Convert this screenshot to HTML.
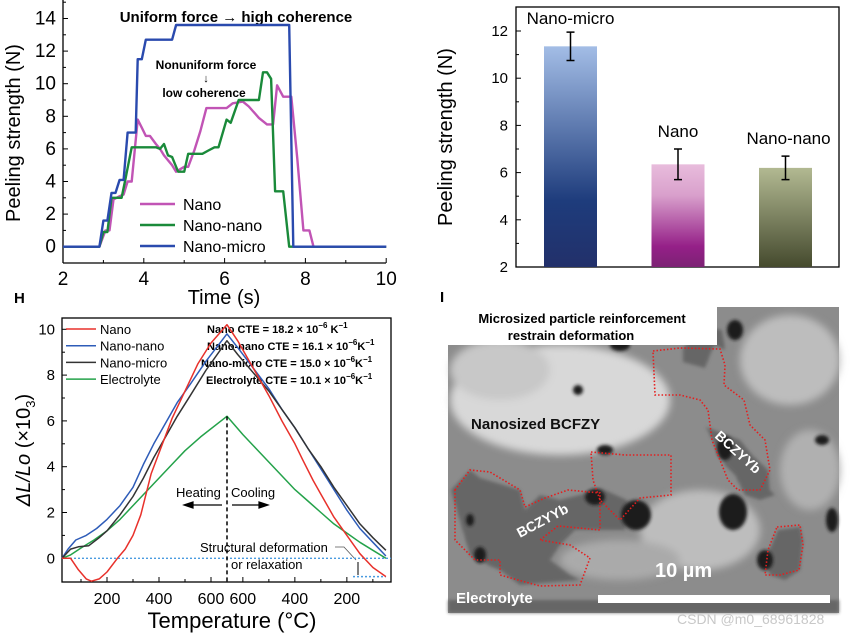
<!DOCTYPE html>
<html><head><meta charset="utf-8">
<style>
html,body{margin:0;padding:0;background:#fff;}
svg{display:block;font-family:"Liberation Sans",Arial,sans-serif;}
</style></head>
<body>
<svg id="root" width="856" height="634" viewBox="0 0 856 634" xmlns="http://www.w3.org/2000/svg">
<defs>
<linearGradient id="gMicro" x1="0" y1="0" x2="0" y2="1"><stop offset="0" stop-color="#a3bde6"/><stop offset="0.7" stop-color="#1e3c7c"/><stop offset="1" stop-color="#22306a"/></linearGradient>
<linearGradient id="gNano" x1="0" y1="0" x2="0" y2="1"><stop offset="0" stop-color="#e8bcdc"/><stop offset="0.3" stop-color="#d9a0cc"/><stop offset="0.8" stop-color="#952088"/><stop offset="1" stop-color="#7c2274"/></linearGradient>
<linearGradient id="gNN" x1="0" y1="0" x2="0" y2="1"><stop offset="0" stop-color="#b2b992"/><stop offset="1" stop-color="#454a2e"/></linearGradient>
<filter id="blur"><feGaussianBlur stdDeviation="4"/></filter>
<filter id="blur2"><feGaussianBlur stdDeviation="1.5"/></filter>
<pattern id="stripes" width="4" height="10" patternUnits="userSpaceOnUse"><rect width="4" height="10" fill="#5a5a5a"/><rect width="2" height="10" fill="#666"/></pattern>
</defs>

<g id="pA">
<text x="20" y="133" font-size="20" text-anchor="middle" transform="rotate(-90 20 133)">Peeling strength (N)</text>
<text x="224" y="304" font-size="20" text-anchor="middle">Time (s)</text>
<text x="236" y="22" font-size="15" font-weight="bold" text-anchor="middle">Uniform force → high coherence</text>
<text x="206" y="69" font-size="12" font-weight="bold" text-anchor="middle">Nonuniform force</text>
<text x="206" y="82" font-size="11" text-anchor="middle">↓</text>
<text x="204" y="97" font-size="12" font-weight="bold" text-anchor="middle">low coherence</text>
</g>

<g id="pB">
<rect x="516" y="7" width="323" height="260" fill="none" stroke="#000" stroke-width="1.3"/>
<text x="452" y="137" font-size="20" text-anchor="middle" transform="rotate(-90 452 137)">Peeling strength (N)</text>
</g>

<g id="pH">
<text x="14" y="303" font-size="15" font-weight="bold">H</text>
<rect x="62" y="318" width="329" height="264" fill="none" stroke="#000" stroke-width="1.3"/>
<text x="232" y="628" font-size="22" text-anchor="middle">Temperature (°C)</text>
<text x="30" y="450" font-size="20" text-anchor="middle" transform="rotate(-90 30 450)"><tspan font-style="italic">ΔL/Lo</tspan> (×10<tspan font-size="13" dy="5">3</tspan><tspan dy="-5">)</tspan></text>
<g font-size="11" font-weight="bold">
<text x="207" y="333">Nano CTE = 18.2 × 10<tspan font-size="8" dy="-5">−6</tspan><tspan dy="5"> K</tspan><tspan font-size="8" dy="-5">−1</tspan></text>
<text x="207" y="350">Nano-nano CTE = 16.1 × 10<tspan font-size="8" dy="-5">−6</tspan><tspan dy="5">K</tspan><tspan font-size="8" dy="-5">−1</tspan></text>
<text x="201" y="367">Nano-micro CTE = 15.0 × 10<tspan font-size="8" dy="-5">−6</tspan><tspan dy="5">K</tspan><tspan font-size="8" dy="-5">−1</tspan></text>
<text x="206" y="384">Electrolyte CTE = 10.1 × 10<tspan font-size="8" dy="-5">−6</tspan><tspan dy="5">K</tspan><tspan font-size="8" dy="-5">−1</tspan></text>
</g>
<text x="176" y="497" font-size="13">Heating</text>
<text x="231" y="497" font-size="13">Cooling</text>
<g stroke="#000" stroke-width="1.2">
<line x1="222" y1="505" x2="190" y2="505"/><polygon points="184,505 193,502 193,508" fill="#000"/>
<line x1="232" y1="505" x2="262" y2="505"/><polygon points="268,505 259,502 259,508" fill="#000"/>
</g>
<text x="200" y="552" font-size="13">Structural deformation</text>
<text x="231" y="569" font-size="13">or relaxation</text>
<polyline points="335,547 344,547 356,560" fill="none" stroke="#555" stroke-width="0.8"/>
<line x1="358" y1="562" x2="358" y2="575" stroke="#000" stroke-width="1"/>
</g>

<g id="pI">
<text x="440" y="302" font-size="15" font-weight="bold">I</text>
<rect x="448" y="307" width="391" height="306" fill="#8c8c8c"/>
<g filter="url(#blur)">
<ellipse cx="560" cy="400" rx="110" ry="55" fill="#d8d8d8"/>
<ellipse cx="500" cy="370" rx="50" ry="30" fill="#c8c8c8"/>
<ellipse cx="790" cy="360" rx="50" ry="45" fill="#bdbdbd"/>
<ellipse cx="700" cy="530" rx="60" ry="40" fill="#bdbdbd"/>
<ellipse cx="620" cy="560" rx="60" ry="20" fill="#aaa"/>
<ellipse cx="810" cy="470" rx="30" ry="40" fill="#b0b0b0"/>
</g>
<g fill="url(#stripes)" opacity="0.85" filter="url(#blur2)">
<polygon points="683,348 683,362 705,368 712,350 715,345 725,350 722,330 706,327"/>
<polygon points="451,490 470,470 480,478 520,490 525,510 540,495 560,500 580,495 600,488 627,500 625,530 575,530 560,545 550,560 570,575 580,580 520,585 500,570 490,566 470,555"/>
<polygon points="706,427 740,440 752,455 768,470 770,490 775,495 760,500 745,495 735,475 725,465"/>
<polygon points="778,530 800,527 803,540 800,570 785,580 770,575 765,560"/>
<polygon points="448,600 839,600 839,613 448,613"/>
</g>
<g fill="#1a1a1a" filter="url(#blur2)">
<ellipse cx="636" cy="515" rx="15" ry="15"/><ellipse cx="595" cy="497" rx="10" ry="8"/><ellipse cx="733" cy="512" rx="14" ry="18"/>
<ellipse cx="725" cy="448" rx="8" ry="12"/><ellipse cx="765" cy="560" rx="8" ry="10"/><ellipse cx="480" cy="555" rx="6" ry="8"/>
<ellipse cx="578" cy="390" rx="5" ry="5"/><ellipse cx="605" cy="450" rx="8" ry="5"/><ellipse cx="620" cy="345" rx="10" ry="6"/><ellipse cx="832" cy="520" rx="6" ry="12"/>
<ellipse cx="735" cy="330" rx="8" ry="10"/><ellipse cx="822" cy="440" rx="7" ry="5"/><ellipse cx="470" cy="520" rx="4" ry="6"/>
</g>
<g fill="none" stroke="#e41e1e" stroke-width="1.6" stroke-dasharray="1.5 2">
<path d="M653,351 L680,348 L720,349 L725,365 L724,385 L744,400 L750,425 L765,440 L770,470 L760,490 L738,490 L728,480 L712,440 L708,410 L700,400 L680,395 L655,395 Z"/>
<path d="M455,490 L470,470 L490,472 L520,490 L525,507 L545,498 L568,490 L600,493 L600,530 L558,526 L540,540 L570,545 L590,558 L580,585 L540,586 L500,575 L500,560 L475,560 L455,540 Z"/>
<path d="M591,452 L625,455 L671,455 L671,495 L640,498 L620,520 L600,500 L593,480 Z"/>
<path d="M777,527 L800,525 L803,545 L799,570 L780,575 L765,575 L768,550 Z"/>
</g>
<rect x="448" y="307" width="269" height="38" fill="#fff"/>
<text x="582" y="323" font-size="13" font-weight="bold" text-anchor="middle">Microsized particle reinforcement</text>
<text x="571" y="340" font-size="13" font-weight="bold" text-anchor="middle">restrain deformation</text>
<text x="471" y="429" font-size="15" font-weight="bold" fill="#111">Nanosized BCFZY</text>
<text x="0" y="0" font-size="14" font-weight="bold" fill="#fff" transform="translate(520,538) rotate(-28)">BCZYYb</text>
<text x="0" y="0" font-size="14" font-weight="bold" fill="#fff" transform="translate(714,437) rotate(42)">BCZYYb</text>
<text x="655" y="577" font-size="20" font-weight="bold" fill="#fff">10 µm</text>
<rect x="598" y="595" width="232" height="8" fill="#fff"/>
<text x="456" y="603" font-size="15" font-weight="bold" fill="#fff">Electrolyte</text>
<text x="677" y="624" font-size="14" fill="#c8c8c8">CSDN @m0_68961828</text>
</g>
</svg>

<script>
// ---------- Panel A data ----------
const aXTicks = [2,4,6,8,10];
const aYTicks = [0,2,4,6,8,10,12,14];
const nanoT = [2,2.9,3.05,3.15,3.25,3.4,3.5,3.6,3.7,3.85,3.95,4.05,4.15,4.3,4.4,4.5,4.6,4.7,4.8,5.0,5.1,5.25,5.4,5.55,5.65,6.05,6.2,6.45,6.6,6.85,7.05,7.2,7.3,7.45,7.65,7.8,7.95,8.1,8.2,10];
const nanoV = [0,0,1.0,1.0,2.9,3.1,3.2,4.0,4.0,7.8,7.3,6.8,6.8,6.3,6.0,5.6,5.3,5.0,4.6,4.9,4.9,5.9,7.1,8.5,8.5,8.5,8.8,8.9,8.6,7.9,7.5,7.5,9.9,9.2,9.2,5.4,1.0,1.0,0,0];
const nnT = [2,2.9,3.0,3.1,3.2,3.45,3.55,3.7,4.3,4.4,4.5,4.6,4.7,4.75,4.85,5.0,5.1,5.45,5.6,5.75,5.85,6.05,6.15,6.35,6.85,6.95,7.05,7.15,7.25,7.45,7.6,10];
const nnV = [0,0,0.9,0.9,3.0,3.0,4.2,6.1,6.1,6.0,6.3,5.6,5.5,5.2,4.6,4.6,5.7,5.7,5.9,6.1,6.1,7.8,7.6,9.0,9.0,10.7,10.7,10.3,3.4,3.4,0,0];
const nmT = [2,2.9,3.0,3.1,3.2,3.3,3.4,3.5,3.6,3.8,3.85,3.95,4.05,4.7,4.8,7.6,7.7,10];
const nmV = [0,0,1.6,1.6,3.3,3.3,4.1,4.1,7,7,11.5,11.5,12.7,12.7,13.6,13.6,0,0];
const aSeriesNames = ["Nano","Nano-nano","Nano-micro"];
// ---------- Panel B data ----------
const bCats = ["Nano-micro","Nano","Nano-nano"];
const bVals = [11.35,6.35,6.2];
const bErr = [0.6,0.65,0.5];
const bYTicks = [2,4,6,8,10,12];
// ---------- Panel H data ----------
const hHeatTicks = [200,400,600];
const hCoolTicks = [600,400,200];
const hYTicks = [0,2,4,6,8,10];
const redHeatT = [27,60,90,120,140,170,200,240,270,300,330,350,370,400,450,500,550,600,661];
const redHeatV = [0,0,-0.5,-0.9,-1.0,-0.9,-0.6,0,0.4,1.0,1.9,2.8,3.7,4.6,6.1,7.3,8.5,9.4,10.2];
const redCoolT = [661,620,560,500,450,400,370,330,300,250,200,150,100,50];
const redCoolV = [10.2,9.5,8.3,7.1,6.0,5.0,4.3,3.4,2.8,1.8,1.0,0.2,-0.4,-0.8];
const blueHeatT = [27,50,80,120,160,200,250,300,340,380,420,470,520,580,661];
const blueHeatV = [0,0.4,0.8,1.0,1.3,1.7,2.3,3.1,4.1,5.0,5.8,6.8,7.6,8.6,9.8];
const blueCoolT = [661,620,560,500,450,400,350,300,250,200,150,100,50];
const blueCoolV = [9.8,9.2,8.3,7.4,6.5,5.7,4.8,3.9,3.0,2.1,1.3,0.7,0.1];
const blackHeatT = [27,60,90,130,170,200,250,300,340,380,420,470,520,580,661];
const blackHeatV = [0,0.4,0.5,0.55,0.9,1.2,1.9,2.7,3.5,4.4,5.2,6.2,7.1,8.2,9.5];
const blackCoolT = [661,620,560,500,450,400,350,300,250,200,150,100,50];
const blackCoolV = [9.5,8.9,8.1,7.3,6.5,5.7,4.8,4.0,3.1,2.3,1.5,0.9,0.35];
const greenHeatT = [27,60,100,150,200,250,300,350,400,450,500,560,661];
const greenHeatV = [0,0.15,0.45,0.8,1.2,1.7,2.3,2.9,3.5,4.1,4.7,5.3,6.2];
const greenCoolT = [661,600,550,500,450,400,350,300,250,200,150,100,50];
const greenCoolV = [6.2,5.4,4.8,4.2,3.6,3.0,2.5,2.0,1.5,1.1,0.7,0.35,0.0];
const hNames = ["Nano","Nano-nano","Nano-micro","Electrolyte"];
const hPeakT = 661;
const hDeform = -0.8;

const NS = "http://www.w3.org/2000/svg";
function mk(parent, tag, attrs, text){
  const e = document.createElementNS(NS, tag);
  for (const k in attrs) e.setAttribute(k, attrs[k]);
  if (text !== undefined) e.textContent = text;
  parent.appendChild(e);
  return e;
}
(function(){
  const g = document.getElementById('pA');
  const x = t => 63 + (t-2)*40.4;
  const y = v => 246.7 - v*16.3;
  mk(g,'line',{x1:63,y1:0,x2:63,y2:263,stroke:'#000','stroke-width':1.3});
  mk(g,'line',{x1:63,y1:263,x2:386,y2:263,stroke:'#000','stroke-width':1.3});
  aXTicks.forEach(t=>{
    mk(g,'line',{x1:x(t),y1:263,x2:x(t),y2:258,stroke:'#000'});
    const l = mk(g,'text',{x:x(t),y:285,'font-size':19,'text-anchor':'middle'},String(t));
    
    
    if (t<10) mk(g,'line',{x1:x(t+1),y1:263,x2:x(t+1),y2:260,stroke:'#000'});
  });
  aYTicks.forEach(v=>{
    mk(g,'line',{x1:63,y1:y(v),x2:68,y2:y(v),stroke:'#000'});
    mk(g,'line',{x1:63,y1:y(v+1),x2:66,y2:y(v+1),stroke:'#000'});
    const l = mk(g,'text',{x:56,y:y(v)+6,'font-size':19,'text-anchor':'end'},String(v));
    
    
  });
  const cols = ['#c154b5','#1a8a3a','#2a4aae'];
  [[nanoT,nanoV],[nnT,nnV],[nmT,nmV]].forEach((s,i)=>{
    const pts = s[0].map((t,j)=>x(t).toFixed(1)+','+y(s[1][j]).toFixed(1)).join(' ');
    const p = mk(g,'polyline',{points:pts,fill:'none',stroke:cols[i],'stroke-width':2.4,'stroke-linejoin':'round'});
    
    
  });
  aSeriesNames.forEach((n,i)=>{
    const yy = 204 + i*21;
    const le = mk(g,'line',{x1:140,y1:yy,x2:175,y2:yy,stroke:cols[i],'stroke-width':2.6});
    
    
    mk(g,'text',{x:183,y:yy+6,'font-size':16},n);
  });
})();
(function(){
  const g = document.getElementById('pB');
  const y = v => 267 - (v-2)*23.6;
  bYTicks.forEach(v=>{
    mk(g,'line',{x1:516,y1:y(v),x2:521,y2:y(v),stroke:'#000'});
    if (v<12) mk(g,'line',{x1:516,y1:y(v+1),x2:519,y2:y(v+1),stroke:'#000'});
    const l = mk(g,'text',{x:508,y:y(v)+5,'font-size':15,'text-anchor':'end'},String(v));
    
    
  });
  const fills = ['url(#gMicro)','url(#gNano)','url(#gNN)'];
  bCats.forEach((c,i)=>{
    const cx = 570.5 + i*107.5, w = 53;
    const b = mk(g,'rect',{x:cx-w/2,y:y(bVals[i]),width:w,height:267-y(bVals[i]),fill:fills[i]});
    
    
    const t = y(bVals[i]+bErr[i]), bo = y(bVals[i]-bErr[i]);
    const e = mk(g,'path',{d:`M${cx},${t}V${bo}M${cx-4},${t}H${cx+4}M${cx-4},${bo}H${cx+4}`,stroke:'#000','stroke-width':1.5,fill:'none'});
    
    
    const l = mk(g,'text',{x:cx+(i===2?3:0),y:y(bVals[i]+bErr[i])-(i===0?8:12),'font-size':17,'text-anchor':'middle'},c);
    
    
  });
})();
(function(){
  const g = document.getElementById('pH');
  const xh = T => 55 + T*0.26;
  const xc = T => 227 + (hPeakT - T)*0.26;
  const y = v => 558.3 - v*22.9;
  hYTicks.forEach(v=>{
    mk(g,'line',{x1:62,y1:y(v),x2:67,y2:y(v),stroke:'#000'});
    if (v<10) mk(g,'line',{x1:62,y1:y(v+1),x2:65,y2:y(v+1),stroke:'#000'});
    const l = mk(g,'text',{x:55,y:y(v)+5,'font-size':15,'text-anchor':'end'},String(v));
    
    
  });
  hHeatTicks.forEach(T=>{
    mk(g,'line',{x1:xh(T),y1:582,x2:xh(T),y2:577,stroke:'#000'});
    mk(g,'line',{x1:xh(T-100),y1:582,x2:xh(T-100),y2:579,stroke:'#000'});
    const l = mk(g,'text',{x:xh(T),y:604,'font-size':16,'text-anchor':'middle'},String(T));
    
    
  });
  hCoolTicks.forEach(T=>{
    mk(g,'line',{x1:xc(T),y1:582,x2:xc(T),y2:577,stroke:'#000'});
    mk(g,'line',{x1:xc(T-100),y1:582,x2:xc(T-100),y2:579,stroke:'#000'});
    const l = mk(g,'text',{x:xc(T),y:604,'font-size':16,'text-anchor':'middle'},String(T));
    
    
  });
  const z = mk(g,'line',{x1:62,y1:y(0),x2:391,y2:y(0),stroke:'#4a9be0','stroke-width':1.4,'stroke-dasharray':'2 2'});
  
  
  mk(g,'line',{x1:353,y1:y(hDeform),x2:386,y2:y(hDeform),stroke:'#4a9be0','stroke-width':1.4,'stroke-dasharray':'2 2'});
  const cols = ['#e8312b','#2e5cb8','#333','#24a24a'];
  const series = [[redHeatT,redHeatV,redCoolT,redCoolV],[blueHeatT,blueHeatV,blueCoolT,blueCoolV],[blackHeatT,blackHeatV,blackCoolT,blackCoolV],[greenHeatT,greenHeatV,greenCoolT,greenCoolV]];
  [3,1,2,0].forEach(i=>{
    const s = series[i];
    const pts = s[0].map((T,j)=>xh(T).toFixed(1)+','+y(s[1][j]).toFixed(1))
      .concat(s[2].map((T,j)=>xc(T).toFixed(1)+','+y(s[3][j]).toFixed(1))).join(' ');
    const p = mk(g,'polyline',{points:pts,fill:'none',stroke:cols[i],'stroke-width':1.5,'stroke-linejoin':'round'});
    
    
  });
  const pk = mk(g,'line',{x1:227,y1:y(greenHeatV[greenHeatV.length-1]),x2:227,y2:582,stroke:'#000','stroke-width':1.5,'stroke-dasharray':'4 3'});
  
  
  hNames.forEach((n,i)=>{
    const yy = 329 + i*16.7;
    const le = mk(g,'line',{x1:66,y1:yy,x2:96,y2:yy,stroke:cols[i],'stroke-width':1.5});
    
    
    mk(g,'text',{x:100,y:yy+5,'font-size':13},n);
  });
})();
</script>
</body></html>
